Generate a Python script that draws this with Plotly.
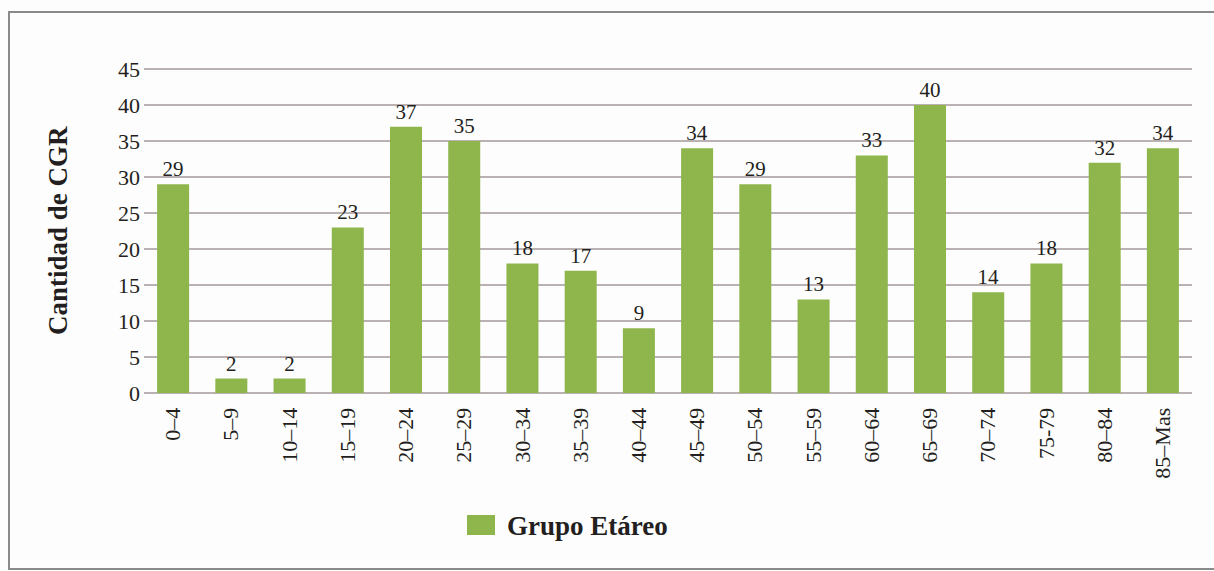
import plotly.graph_objects as go

categories = ["0–4", "5–9", "10–14", "15–19", "20–24", "25–29", "30–34", "35–39",
              "40–44", "45–49", "50–54", "55–59", "60–64", "65–69", "70–74", "75-79",
              "80–84", "85–Mas"]
values = [29, 2, 2, 23, 37, 35, 18, 17, 9, 34, 29, 13, 33, 40, 14, 18, 32, 34]
y_ticks = [0, 5, 10, 15, 20, 25, 30, 35, 40, 45]
series_name = "Grupo Etáreo"
y_title = "Cantidad de CGR"

SERIF = "Liberation Serif, Times New Roman, serif"
GREEN = "#8fb64c"
GRID = "#bab2b2"
TXT = "#231f20"

W, H = 1214, 571
L, R, T, B = 144, 22, 68, 178
pw, ph = W - L - R, H - T - B


def px_x(x):
    return (x - L) / pw


def px_y(y):
    return (H - B - y) / ph


fig = go.Figure()
fig.add_trace(go.Bar(
    x=categories, y=values, name=series_name, showlegend=False,
    marker=dict(color=GREEN, line=dict(width=0)),
    text=values, textposition="outside", cliponaxis=False,
    textfont=dict(family=SERIF, size=21, color=TXT),
))

fig.update_layout(
    width=W, height=H,
    margin=dict(l=L, r=R, t=T, b=B, autoexpand=False),
    paper_bgcolor="#fdfdfd", plot_bgcolor="#fdfdfd",
    bargap=0.45,
    font=dict(family=SERIF, size=22, color=TXT),
    xaxis=dict(tickangle=-90, showgrid=False, showline=False, zeroline=False,
               ticks="outside", ticklen=5, tickcolor="rgba(0,0,0,0)",
               tickfont=dict(family=SERIF, size=22, color=TXT)),
    yaxis=dict(range=[0, 45.15], tickvals=y_ticks, showgrid=True, gridcolor=GRID,
               gridwidth=1.5, zeroline=True, zerolinecolor=GRID, zerolinewidth=1.5,
               showline=False, ticks="", ticklabelstandoff=3,
               tickfont=dict(family=SERIF, size=22, color=TXT)),
    shapes=[
        dict(type="rect", xref="paper", yref="paper",
             x0=px_x(9), x1=px_x(1220), y0=px_y(569), y1=px_y(12),
             line=dict(color="#8a8a8a", width=2), fillcolor="rgba(0,0,0,0)", layer="below"),
        dict(type="rect", xref="paper", yref="paper",
             x0=px_x(467), x1=px_x(495), y0=px_y(535), y1=px_y(515),
             line=dict(width=0), fillcolor=GREEN),
    ],
    annotations=[
        dict(text="<b>" + y_title + "</b>", xref="paper", yref="paper",
             x=px_x(58), y=px_y(231), xanchor="center", yanchor="middle",
             textangle=-90, showarrow=False,
             font=dict(family=SERIF, size=27, color=TXT)),
        dict(text="<b>" + series_name + "</b>", xref="paper", yref="paper",
             x=px_x(505), y=px_y(526), xanchor="left", yanchor="middle",
             showarrow=False, font=dict(family=SERIF, size=27, color=TXT)),
    ],
)

fig.write_html("out.html", config={"displayModeBar": False},
               post_script="document.body.style.margin='0';")
